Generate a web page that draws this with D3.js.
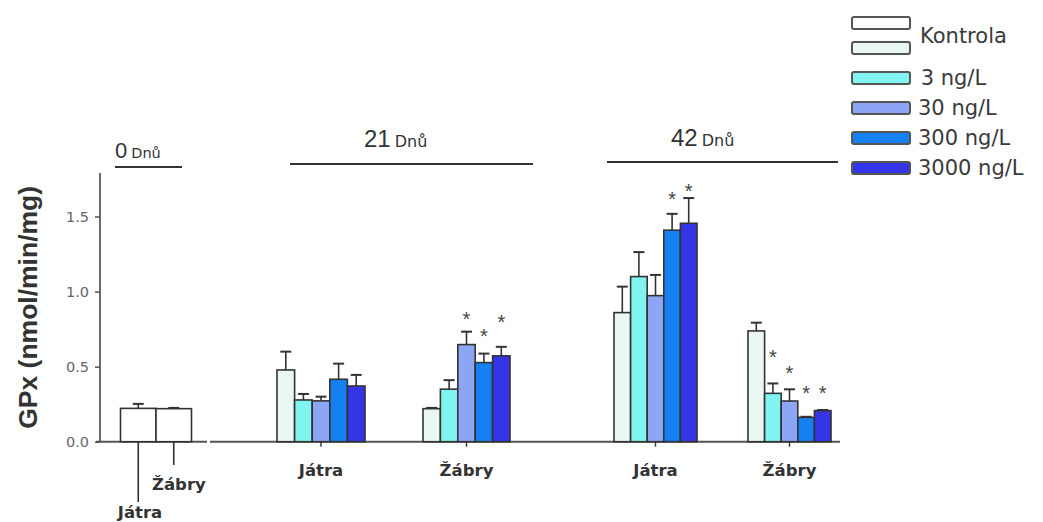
<!DOCTYPE html>
<html>
<head>
<meta charset="utf-8">
<script src="https://cdn.jsdelivr.net/npm/d3@7"></script>
<style>
  html, body { margin: 0; padding: 0; background: #ffffff; }
  svg { display: block; }
</style>
</head>
<body>
<svg id="chart" width="1043" height="522"></svg>
<script>
// ---- data ----------------------------------------------------------------
const seriesNames = ["Kontrola", "3 ng/L", "30 ng/L", "300 ng/L", "3000 ng/L"];
const organs = ["Játra", "Žábry"];
const dayLabels = ["0", "21", "42"];
const dayUnit = "Dnů";
const yTicks = [0, 0.5, 1.0, 1.5];

// day 0: control only, liver and gills
const day0Mean = [0.222, 0.220];
const day0Err = [0.030, 0.005];

// day 21
const d21JatraMean = [0.478, 0.278, 0.272, 0.416, 0.371];
const d21JatraErr = [0.122, 0.040, 0.028, 0.104, 0.074];
const d21ZabryMean = [0.220, 0.350, 0.647, 0.527, 0.572];
const d21ZabryErr = [0.005, 0.060, 0.086, 0.060, 0.060];
const d21ZabryStar = [null, null, 0.845, 0.733, 0.822];

// day 42
const d42JatraMean = [0.860, 1.100, 0.973, 1.409, 1.455];
const d42JatraErr = [0.173, 0.163, 0.138, 0.109, 0.168];
const d42JatraStar = [null, null, null, 1.645, 1.700];
const d42ZabryMean = [0.738, 0.322, 0.271, 0.162, 0.207];
const d42ZabryErr = [0.055, 0.066, 0.078, 0.004, 0.004];
const d42ZabryStar = [null, 0.591, 0.485, 0.351, 0.351];

// ---- styling ---------------------------------------------------------------
const seriesFill = ["#e9f8f3", "#80f4f0", "#8ca6f5", "#1480f2", "#3535e8"];
const controlDay0Fill = "#ffffff";
const ink = "#333333";
const numFont = "'DejaVu Sans', Verdana, sans-serif";

const svg = d3.select("#chart");

// value axis
const y = d3.scaleLinear().domain([0, 1.79]).range([441.7, 173]);

// horizontal placement of each bar cluster (centre and cluster width, px)
const clusters = [
  { key: "d0",   center: 156,   width: 71, mean: day0Mean,     err: day0Err,     star: null,         fills: [controlDay0Fill, controlDay0Fill] },
  { key: "d21J", center: 321,   width: 88, mean: d21JatraMean, err: d21JatraErr, star: null,         fills: seriesFill, label: organs[0] },
  { key: "d21Z", center: 466.5, width: 87, mean: d21ZabryMean, err: d21ZabryErr, star: d21ZabryStar, fills: seriesFill, label: organs[1] },
  { key: "d42J", center: 655.5, width: 83, mean: d42JatraMean, err: d42JatraErr, star: d42JatraStar, fills: seriesFill, label: organs[0] },
  { key: "d42Z", center: 789.5, width: 83, mean: d42ZabryMean, err: d42ZabryErr, star: d42ZabryStar, fills: seriesFill, label: organs[1] }
];

// ---- axes ------------------------------------------------------------------
const yAxis = d3.axisLeft(y).tickValues(yTicks).tickFormat(d3.format(".1f")).tickSize(5).tickPadding(6);
const gy = svg.append("g").attr("transform", "translate(100,0)").call(yAxis);
gy.select(".domain").remove();
gy.append("line").attr("x1", 0).attr("x2", 0).attr("y1", 173).attr("y2", y(0))
  .attr("stroke", "#444").attr("stroke-width", 1.6);
gy.selectAll(".tick line").attr("stroke", "#444").attr("stroke-width", 1.4);
gy.selectAll(".tick text").attr("fill", "#666").style("font-family", numFont).style("font-size", "14.5px");

// baseline (broken after the day-0 cluster)
svg.append("line").attr("x1", 96).attr("x2", 207).attr("y1", y(0)).attr("y2", y(0))
  .attr("stroke", "#555").attr("stroke-width", 2);
svg.append("line").attr("x1", 210).attr("x2", 840).attr("y1", y(0)).attr("y2", y(0))
  .attr("stroke", "#555").attr("stroke-width", 2);

// y title
svg.append("text")
  .attr("transform", `translate(37,${(173 + 441.7) / 2}) rotate(-90)`)
  .attr("text-anchor", "middle")
  .attr("fill", ink)
  .style("font-family", "'Liberation Sans', Arial, sans-serif")
  .style("font-weight", "bold")
  .style("font-size", "26.5px")
  .text("GPx (nmol/min/mg)");

// ---- bars ------------------------------------------------------------------
clusters.forEach(c => {
  const idx = d3.range(c.mean.length);
  const xb = d3.scaleBand().domain(idx).range([c.center - c.width / 2, c.center + c.width / 2]).padding(0);
  const g = svg.append("g").attr("class", "cluster-" + c.key);

  // error bars first, bars drawn on top
  g.selectAll("g.err").data(idx).join("g").attr("class", "err").each(function (i) {
    const cx = xb(i) + xb.bandwidth() / 2;
    const top = y(c.mean[i] + c.err[i]);
    const sel = d3.select(this);
    sel.append("line").attr("x1", cx).attr("x2", cx).attr("y1", y(c.mean[i])).attr("y2", top)
      .attr("stroke", ink).attr("stroke-width", 1.6);
    sel.append("line").attr("x1", cx - 5.5).attr("x2", cx + 5.5).attr("y1", top).attr("y2", top)
      .attr("stroke", ink).attr("stroke-width", 2);
  });

  g.selectAll("rect").data(idx).join("rect")
    .attr("x", i => xb(i))
    .attr("y", i => y(c.mean[i]))
    .attr("width", xb.bandwidth())
    .attr("height", i => y(0) - y(c.mean[i]))
    .attr("fill", i => c.fills[i])
    .attr("stroke", ink)
    .attr("stroke-width", 1.6);

  // significance marks
  if (c.star) {
    g.selectAll("text.star").data(idx.filter(i => c.star[i] != null)).join("text")
      .attr("class", "star")
      .attr("x", i => xb(i) + xb.bandwidth() / 2)
      .attr("y", i => y(c.star[i]) + 11)
      .attr("text-anchor", "middle")
      .attr("fill", "#444")
      .style("font-family", "'Liberation Sans', Arial, sans-serif")
      .style("font-size", "20px")
      .text("*");
  }

  // category tick + label
  if (c.label) {
    g.append("line").attr("x1", c.center).attr("x2", c.center).attr("y1", y(0)).attr("y2", y(0) + 5)
      .attr("stroke", ink).attr("stroke-width", 1.4);
    g.append("text").attr("x", c.center).attr("y", 476)
      .attr("text-anchor", "middle").attr("fill", ink)
      .style("font-family", numFont).style("font-weight", "bold").style("font-size", "16.5px")
      .text(c.label);
  } else {
    // day 0: leader lines down to the two organ labels
    const leaderEnd = [502, 465];
    idx.forEach(i => {
      const cx = xb(i) + xb.bandwidth() / 2;
      g.append("line").attr("x1", cx).attr("x2", cx).attr("y1", y(0)).attr("y2", leaderEnd[i])
        .attr("stroke", ink).attr("stroke-width", 1.6);
    });
    g.append("text").attr("x", 140).attr("y", 518).attr("text-anchor", "middle").attr("fill", ink)
      .style("font-family", numFont).style("font-weight", "bold").style("font-size", "16.5px")
      .text(organs[0]);
    g.append("text").attr("x", 152).attr("y", 490).attr("text-anchor", "start").attr("fill", ink)
      .style("font-family", numFont).style("font-weight", "bold").style("font-size", "16.5px")
      .text(organs[1]);
  }
});

// ---- day headers -------------------------------------------------------------
const headers = [
  { day: dayLabels[0], x: 115, y: 158, big: 22, small: 14.5, line: [115, 182, 167] },
  { day: dayLabels[1], x: 364, y: 147, big: 24, small: 16,   line: [290, 533, 164] },
  { day: dayLabels[2], x: 671, y: 146, big: 24, small: 16,   line: [607, 838, 162] }
];
headers.forEach(h => {
  const t = svg.append("text").attr("x", h.x).attr("y", h.y).attr("fill", ink)
    .style("font-family", "'Liberation Sans', Arial, sans-serif");
  t.append("tspan").style("font-size", h.big + "px").text(h.day);
  t.append("tspan").attr("dx", 4).style("font-size", h.small + "px").style("font-family", numFont).text(dayUnit);
  svg.append("line").attr("x1", h.line[0]).attr("x2", h.line[1]).attr("y1", h.line[2]).attr("y2", h.line[2])
    .attr("stroke", ink).attr("stroke-width", 2);
});

// ---- legend ------------------------------------------------------------------
const legendFills = [controlDay0Fill].concat(seriesFill);
const swatchY = [17, 42, 72, 102, 132, 162];
const lg = svg.append("g").attr("class", "legend");
lg.selectAll("rect").data(legendFills).join("rect")
  .attr("x", 852).attr("y", (d, i) => swatchY[i])
  .attr("width", 58).attr("height", 12).attr("rx", 2)
  .attr("fill", d => d).attr("stroke", "#555").attr("stroke-width", 2);
const legendText = [
  { text: seriesNames[0], x: 920, y: 43 },
  { text: " " + seriesNames[1], x: 914, y: 85 },
  { text: seriesNames[2], x: 918, y: 115 },
  { text: seriesNames[3], x: 918, y: 145 },
  { text: seriesNames[4], x: 918, y: 175 }
];
lg.selectAll("text").data(legendText).join("text")
  .attr("x", d => d.x).attr("y", d => d.y)
  .attr("fill", "#3a3a3a")
  .attr("xml:space", "preserve")
  .style("white-space", "pre")
  .style("font-family", numFont)
  .style("font-size", "21px")
  .text(d => d.text);
</script>
</body>
</html>
